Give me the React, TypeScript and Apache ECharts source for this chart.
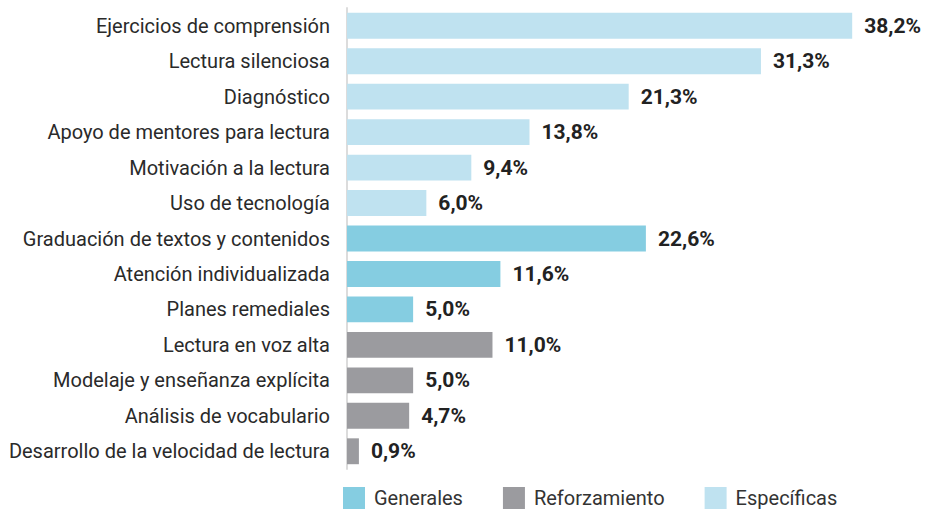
import React, { useEffect, useRef } from "react";
import * as echarts from "echarts";

const categories = [
  "Ejercicios de comprensión",
  "Lectura silenciosa",
  "Diagnóstico",
  "Apoyo de mentores para lectura",
  "Motivación a la lectura",
  "Uso de tecnología",
  "Graduación de textos y contenidos",
  "Atención individualizada",
  "Planes remediales",
  "Lectura en voz alta",
  "Modelaje y enseñanza explícita",
  "Análisis de vocabulario",
  "Desarrollo de la velocidad de lectura",
];
const groups = ["E", "E", "E", "E", "E", "E", "G", "G", "G", "R", "R", "R", "R"];
const values = [38.2, 31.3, 21.3, 13.8, 9.4, 6.0, 22.6, 11.6, 5.0, 11.0, 5.0, 4.7, 0.9];
const seriesNames = ["Generales", "Reforzamiento", "Específicas"];
const seriesKeys = ["G", "R", "E"];
const seriesColors = ["#85cde1", "#9b9b9f", "#bfe2f0"];

const FONT = "Roboto";

export default function App() {
  const ref = useRef<HTMLDivElement>(null);
  useEffect(() => {
    if (!ref.current) return;
    const chart = echarts.init(ref.current, null, { renderer: "svg" });
    chart.setOption({
      animation: false,
      textStyle: { fontFamily: FONT },
      grid: { left: 347, right: 51, top: 8, bottom: 40, containLabel: false },
      legend: {
        top: 487,
        left: 343,
        padding: 0,
        itemWidth: 22,
        itemHeight: 22,
        itemGap: 40,
        icon: "rect",
        textStyle: {
          fontSize: 20,
          color: "#333",
          fontFamily: FONT,
          lineHeight: 22,
          padding: [0, 0, 0, 4],
        },
        data: seriesNames,
      },
      xAxis: { type: "value", min: 0, max: 40, show: false },
      yAxis: {
        type: "category",
        inverse: true,
        data: categories,
        axisLine: { show: true, lineStyle: { color: "#dcdcdc", width: 2 } },
        axisTick: { show: false },
        axisLabel: { fontSize: 20, color: "#2a2a2a", margin: 17, fontFamily: FONT },
      },
      series: seriesKeys.map((k, si) => ({
        name: seriesNames[si],
        type: "bar",
        stack: "all",
        barWidth: "73%",
        itemStyle: { color: seriesColors[si] },
        label: {
          show: true,
          position: "right",
          distance: 12,
          fontSize: 21,
          fontWeight: "bold",
          color: "#222",
          fontFamily: FONT,
          formatter: (p: any) => p.value.toFixed(1).replace(".", ",") + "%",
        },
        data: values.map((v, i) => (groups[i] === k ? v : "-")),
      })),
    });
    return () => chart.dispose();
  }, []);
  return <div ref={ref} style={{ width: 927, height: 509, position: "absolute", left: 0, top: 0 }} />;
}
